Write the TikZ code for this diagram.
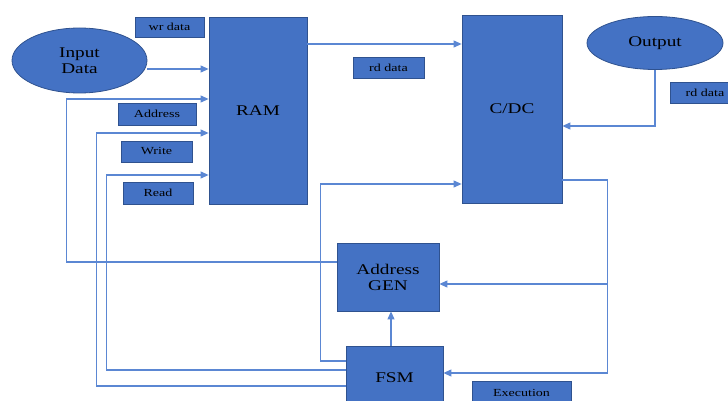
\documentclass[tikz,border=0pt]{standalone}
\usepackage{fontspec}
\setmainfont[FakeStretch=1.3]{Liberation Serif}
\usetikzlibrary{arrows.meta,shapes.geometric}
\definecolor{boxfill}{HTML}{4472C4}
\definecolor{boxline}{HTML}{2F528F}
\definecolor{wire}{HTML}{5B87D3}
\tikzset{
  blk/.style={draw=boxline,fill=boxfill,line width=0.8pt,inner sep=0pt,align=center,
    font=\fontsize{14.8}{16}\selectfont,text=black},
  oval/.style={blk,ellipse},
  tag/.style={draw=boxline,fill=boxfill,line width=0.8pt,inner sep=0pt,
    font=\fontsize{10.8}{12}\selectfont,text=black},
  wireline/.style={draw=wire,line width=1.1pt},
  arr/.style={wireline,-{Triangle[length=8pt,width=7pt]}}
}
\begin{document}
\begin{tikzpicture}[x=1pt,y=-1pt]
\useasboundingbox (0,0) rectangle (728,401);
\clip (0,0) rectangle (728,401);
% main blocks
\node[blk,minimum width=98pt,minimum height=187pt] (ram) at (258,110.5) {RAM};
\node[blk,minimum width=100pt,minimum height=188pt] (cdc) at (512,109) {C/DC};
\node[blk,minimum width=102pt,minimum height=68pt] (agen) at (388,277) {Address\\GEN};
\node[blk,minimum width=97pt,minimum height=64pt] (fsm) at (394.5,378) {FSM};
\node[oval,minimum width=135pt,minimum height=65pt] (ind) at (79.5,60.5) {Input\\Data};
\node[oval,minimum width=136pt,minimum height=53pt] (out) at (655,43) {Output};
% labels
\node[tag,minimum width=69pt,minimum height=20pt] (wr) at (169.5,27) {wr data};
\node[tag,minimum width=78pt,minimum height=22pt] (addr) at (157,114) {Address};
\node[tag,minimum width=71pt,minimum height=21pt] (wri) at (156.5,151.5) {Write};
\node[tag,minimum width=70pt,minimum height=22pt] (rdl) at (158,193) {Read};
\node[tag,minimum width=71pt,minimum height=21pt] (rdm) at (388.5,67.5) {rd data};
\node[tag,minimum width=70pt,minimum height=21pt] (rdr) at (705,92.5) {rd data};
\node[tag,minimum width=99pt,minimum height=24pt] (exe) at (521.5,393) {Execution};
% connectors
\draw[arr] ([yshift=-8.5pt]ind.east) -- ([yshift=-8.5pt]ind.east -| ram.west);
\draw[arr] ([yshift=15pt]agen.west) -- ++(-270,0) |- ([yshift=11.5pt]ram.west);
\draw[arr] ([yshift=-8pt]fsm.west) -- ++(-249,0) |- ([yshift=-22.5pt]ram.west);
\draw[arr] ([yshift=8pt]fsm.west) -- ++(-239,0) |- ([yshift=-64.5pt]ram.west);
\draw[arr] ([yshift=17pt]fsm.west) -- ++(-25,0) |- ([yshift=-75pt]cdc.west);
\draw[arr] ([yshift=66.5pt]ram.east) -- ([yshift=66.5pt]ram.east -| cdc.west);
\draw[arr] (out.south) |- ([yshift=-17pt]cdc.east);
\coordinate (bus) at ([xshift=45pt,yshift=-71pt]cdc.east);
\draw[arr] ([yshift=-71pt]cdc.east) -- (bus) |- ([yshift=5pt]fsm.east);
\draw[arr] ([yshift=-7pt]agen.east -| bus) -- ([yshift=-7pt]agen.east);
\draw[arr] ([xshift=3pt]agen.south |- fsm.north) -- ([xshift=3pt]agen.south);
\end{tikzpicture}
\end{document}
